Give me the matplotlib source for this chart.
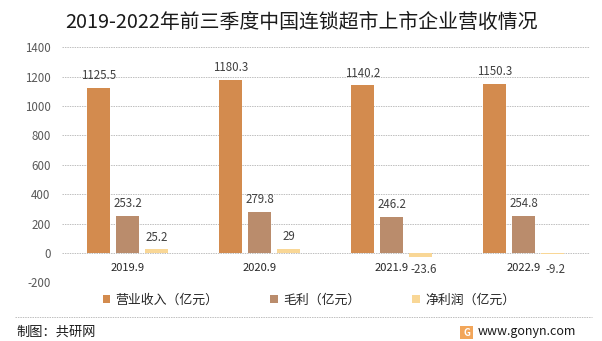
import numpy as np
import matplotlib
matplotlib.use('Agg')
import matplotlib.pyplot as plt
from matplotlib.patches import Rectangle, Patch
from matplotlib.lines import Line2D

plt.rcParams['font.family'] = ['Noto Sans CJK SC', 'DejaVu Sans']

# data
years = ['2019.9', '2020.9', '2021.9', '2022.9']
revenue = [1125.5, 1180.3, 1140.2, 1150.3]
gross = [253.2, 279.8, 246.2, 254.8]
net = [25.2, 29, -23.6, -9.2]
series_names = ['营业收入（亿元）', '毛利（亿元）', '净利润（亿元）']
colors = ['#D38B4E', '#BA8C6C', '#F9D796']
yticks = [-200, 0, 200, 400, 600, 800, 1000, 1200, 1400]

fig = plt.figure(figsize=(6.02, 3.41), dpi=100)
ax = fig.add_axes([0.1025, 0.1716, 0.8775, 0.6897])

x = np.arange(len(years))
width = 0.174
offsets = [-0.221, 0.0, 0.218]
all_series = [revenue, gross, net]

for s, off, col in zip(all_series, offsets, colors):
    ax.bar(x + off, s, width=width, color=col, zorder=3)
    for xi, v in zip(x + off, s):
        label = f'{v:g}'
        if v >= 0:
            ax.annotate(label, (xi, v), xytext=(0, 4), textcoords='offset points',
                        ha='center', va='bottom', fontsize=8.3, color='#404040')
        else:
            ax.annotate(label, (xi, 0), xytext=(2, -7), textcoords='offset points',
                        ha='center', va='top', fontsize=8.3, color='#404040')

# category labels sitting under the zero line
for xi, yr in zip(x, years):
    ax.annotate(yr, (xi, 0), xytext=(0, -7), textcoords='offset points',
                ha='center', va='top', fontsize=8, color='#262626')

ax.set_xlim(-0.5, 3.5)
ax.set_ylim(-200, 1400)
ax.set_yticks(yticks)
ax.set_yticklabels([str(t) for t in yticks], fontsize=8.3, color='#595959')
ax.set_xticks([])
ax.tick_params(axis='y', length=0, pad=8)
ax.yaxis.grid(True, color='#BFBFBF', linestyle=(0, (1.5, 1)), linewidth=0.7, zorder=0)
for sp in ax.spines.values():
    sp.set_visible(False)

fig.text(0.5, 0.935, '2019-2022年前三季度中国连锁超市上市企业营收情况',
         ha='center', va='center', fontsize=14.3, color='#1a1a1a', fontweight='light')

handles = [Patch(facecolor=c, edgecolor='none') for c in colors]
fig.legend(handles, series_names, loc='center', bbox_to_anchor=(0.513, 0.12),
           ncol=3, frameon=False, fontsize=9.3, handlelength=0.6, handleheight=0.6,
           handletextpad=0.4, columnspacing=4.0, labelcolor='#262626')

# footer
fig.add_artist(Line2D([15 / 602, 592 / 602], [1 - 317 / 341] * 2, color='#BFBFBF',
                      linewidth=0.7, linestyle=(0, (1.5, 1))))
fig.text(16 / 602, 1 - 332 / 341, '制图：共研网', ha='left', va='center',
         fontsize=9.5, color='#1a1a1a')
fig.add_artist(Rectangle((460 / 602, 1 - 339 / 341), 13 / 602, 13 / 341,
                         facecolor='#F2A65A', edgecolor='none'))
fig.text(466.5 / 602, 1 - 332.5 / 341, 'G', ha='center', va='center',
         fontsize=7, color='white', fontweight='bold')
fig.text(478 / 602, 1 - 332 / 341, 'www.gonyn.com', ha='left', va='center',
         fontsize=9, color='#1a1a1a')

fig.savefig('out.png', dpi=100)
